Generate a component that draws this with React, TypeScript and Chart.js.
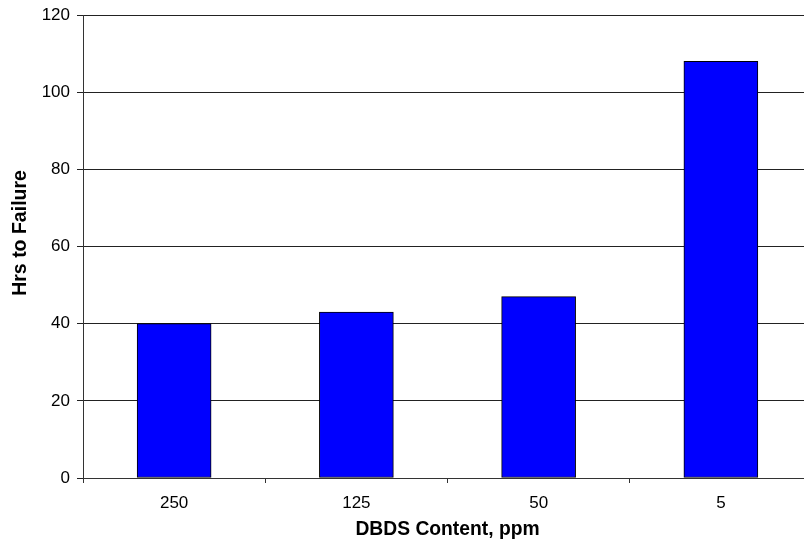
import React, { useEffect, useRef } from "react";
import { Chart, registerables } from "chart.js";

Chart.register(...registerables);

const categories = ["250", "125", "50", "5"];
const hrsToFailure = [40, 43, 47, 108];
const yTitle = "     Hrs to Failure";
const xTitle = "DBDS Content, ppm";

export default function App() {
  const ref = useRef<HTMLCanvasElement | null>(null);
  useEffect(() => {
    if (!ref.current) return;
    const font = "'Liberation Sans', Arial, sans-serif";
    const chart = new Chart(ref.current, {
      type: "bar",
      data: {
        labels: categories,
        datasets: [
          {
            data: hrsToFailure,
            backgroundColor: "#0000FF",
            borderColor: "#000000",
            borderWidth: 1,
            borderSkipped: false,
            barThickness: 74,
          },
        ],
      },
      options: {
        responsive: false,
        animation: false,
        layout: { padding: 0 },
        plugins: { legend: { display: false }, tooltip: { enabled: false } },
        scales: {
          x: {
            grid: {
              drawOnChartArea: false,
              drawTicks: true,
              tickLength: 5,
              color: "#333",
              offset: true,
            },
            border: { color: "#333", width: 1 },
            ticks: { color: "#000", font: { family: font, size: 17 }, padding: 10, maxRotation: 0 },
            title: {
              display: true,
              text: xTitle,
              color: "#000",
              font: { family: font, size: 19.3, weight: "bold" },
              padding: { top: 0, bottom: 3 },
            },
            afterFit: (s: any) => {
              s.height = 66;
            },
          },
          y: {
            min: 0,
            max: 120,
            grid: { color: "#222", tickLength: 6, lineWidth: 1 },
            border: { color: "#333", width: 1 },
            ticks: { stepSize: 20, color: "#000", font: { family: font, size: 17 }, padding: 7 },
            title: {
              display: true,
              text: yTitle,
              color: "#000",
              font: { family: font, size: 19.5, weight: "bold" },
              padding: { top: 9, bottom: 0 },
            },
            afterFit: (s: any) => {
              s.width = 83;
              s.paddingTop = 15;
              s.paddingBottom = 0;
            },
          },
        },
      },
    });
    return () => chart.destroy();
  }, []);
  return (
    <div
      style={{
        position: "fixed",
        left: 0,
        top: 0,
        width: 804,
        height: 544,
        overflow: "hidden",
        background: "#fff",
      }}
    >
      <canvas
        ref={ref}
        width={812}
        height={544}
        style={{ display: "block", position: "absolute", left: 0, top: 0 }}
      />
    </div>
  );
}
